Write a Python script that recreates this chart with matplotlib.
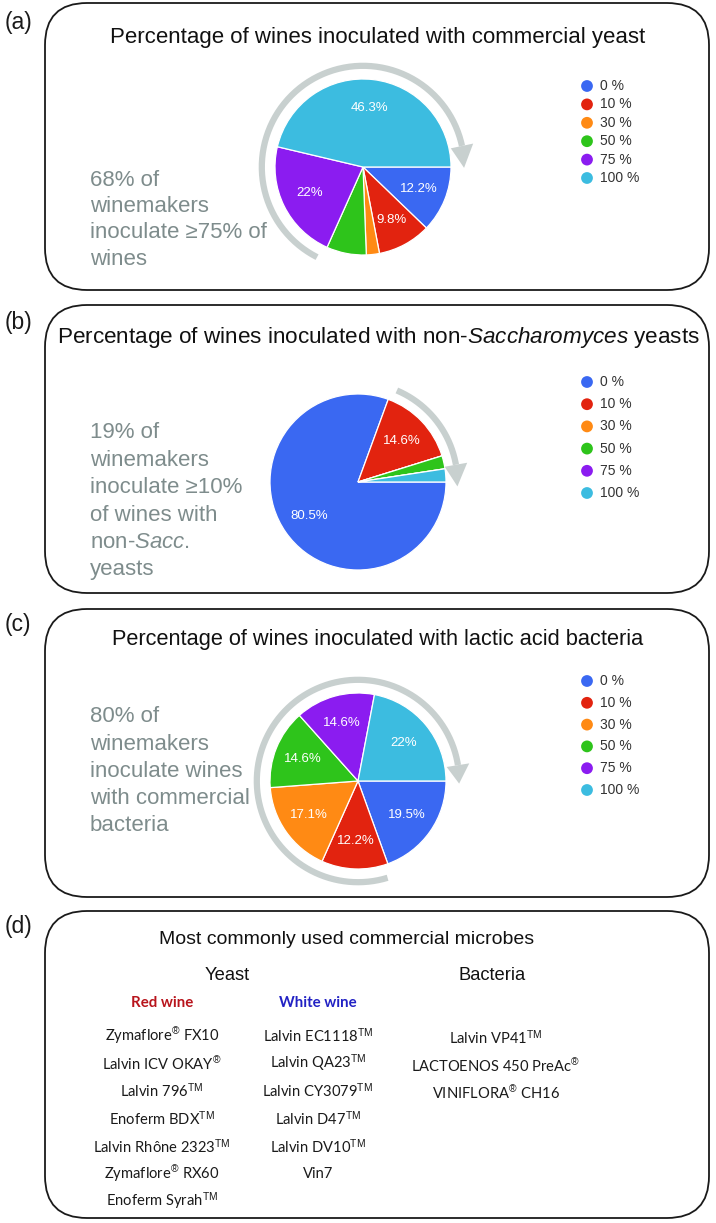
import numpy as np
import matplotlib
matplotlib.use("Agg")
import matplotlib.pyplot as plt
from matplotlib.patches import FancyBboxPatch, Polygon

plt.rcParams['font.family'] = ['Liberation Sans', 'DejaVu Sans']
plt.rcParams['mathtext.fontset'] = 'custom'
plt.rcParams['mathtext.rm'] = 'Liberation Sans'
plt.rcParams['mathtext.it'] = 'Liberation Sans:italic'
plt.rcParams['mathtext.bf'] = 'Liberation Sans:bold'

# ---------------- data ----------------
categories = ['0 %', '10 %', '30 %', '50 %', '75 %', '100 %']
commercial_yeast = [12.2, 9.8, 2.4, 7.3, 22, 46.3]
commercial_yeast_labels = ['12.2%', '9.8%', '', '', '22%', '46.3%']
non_sacc = [80.5, 14.6, 0, 2.4, 0, 2.4]
non_sacc_labels = ['80.5%', '14.6%', '', '', '', '']
lab = [19.5, 12.2, 17.1, 14.6, 14.6, 22]
lab_labels = ['19.5%', '12.2%', '17.1%', '14.6%', '14.6%', '22%']

titles = ['Percentage of wines inoculated with commercial yeast',
          'Percentage of wines inoculated with non-$\\mathit{Saccharomyces}$ yeasts',
          'Percentage of wines inoculated with lactic acid bacteria']
side_texts = [['68% of', 'winemakers', 'inoculate \u226575% of', 'wines'],
              ['19% of', 'winemakers', 'inoculate \u226510%', 'of wines with',
               'non-$\\mathit{Sacc}$.', 'yeasts'],
              ['80% of', 'winemakers', 'inoculate wines', 'with commercial', 'bacteria']]

d_title = 'Most commonly used commercial microbes'
red_wine = ['Zymaflore$^{\u00ae}$ FX10', 'Lalvin ICV OKAY$^{\u00ae}$', 'Lalvin 796$^{\\mathrm{TM}}$',
            'Enoferm BDX$^{\\mathrm{TM}}$', 'Lalvin Rh\u00f4ne 2323$^{\\mathrm{TM}}$',
            'Zymaflore$^{\u00ae}$ RX60', 'Enoferm Syrah$^{\\mathrm{TM}}$']
white_wine = ['Lalvin EC1118$^{\\mathrm{TM}}$', 'Lalvin QA23$^{\\mathrm{TM}}$',
              'Lalvin CY3079$^{\\mathrm{TM}}$', 'Lalvin D47$^{\\mathrm{TM}}$',
              'Lalvin DV10$^{\\mathrm{TM}}$', 'Vin7']
bacteria = ['Lalvin VP41$^{\\mathrm{TM}}$', 'LACTOENOS 450 PreAc$^{\u00ae}$',
            'VINIFLORA$^{\u00ae}$ CH16']

colors = ['#3a68f2', '#e2230f', '#ff8a14', '#2ec41b', '#8b1cf0', '#3cbce0']
arrow_gray = '#c8d0cf'
text_gray = '#7e8c8c'

W, H = 716, 1223
fig = plt.figure(figsize=(W / 100, H / 100), dpi=100)
ax0 = fig.add_axes([0, 0, 1, 1])
ax0.set_xlim(0, W)
ax0.set_ylim(H, 0)
ax0.axis('off')

# boxes
boxes = [(45, 3, 709, 290), (45, 305, 709, 593), (45, 609, 709, 897), (45, 911, 709, 1218)]
for (x0, y0, x1, y1) in boxes:
    ax0.add_patch(FancyBboxPatch((x0, y0), x1 - x0, y1 - y0,
                                 boxstyle='round,pad=0,rounding_size=42',
                                 fc='white', ec='#1a1a1a', lw=1.3))

panel_letters = ['(a)', '(b)', '(c)', '(d)']
letter_y = [22, 323, 624, 927]
for s, y in zip(panel_letters, letter_y):
    ax0.text(18, y, s, fontsize=16.5, ha='center', va='center', color='#1a1a1a')

title_y = [38, 338, 640]
title_fs = [16, 16.2, 15.7]
for t, y, fs in zip(titles, title_y, title_fs):
    ax0.text(378, y, t, fontsize=fs, ha='center', va='center', color='#111111')

side_y0 = [180, 433, 717]
side_dy = [26.5, 27.4, 27.2]
for lines, y0, dy in zip(side_texts, side_y0, side_dy):
    for i, ln in enumerate(lines):
        ax0.text(90, y0 + i * dy, ln, fontsize=16, ha='left', va='center', color=text_gray)

# legends
leg_y0 = [86, 382, 681]
leg_dy = [18.4, 22.2, 21.8]
for y0, dy in zip(leg_y0, leg_dy):
    for i, (c, lab_name) in enumerate(zip(colors, categories)):
        ax0.scatter([587], [y0 + i * dy], s=72, color=c, edgecolors='none')
        ax0.text(600, y0 + i * dy, lab_name, fontsize=10, ha='left', va='center', color='#333333')

# pies
R = 88.0
lim = 1.3
centers = [(363, 167), (358, 482), (358, 781)]
datasets = [(commercial_yeast, commercial_yeast_labels),
            (non_sacc, non_sacc_labels),
            (lab, lab_labels)]
arcs = [(243, 12, 3, 1.15), (67, 10, 1, 1.13), (287, 9, 2, 1.15)]

for (cx, cy), (vals, labs), (a_start, a_end, a_tip, ar) in zip(centers, datasets, arcs):
    S = lim * R
    ax = fig.add_axes([(cx - S) / W, (H - cy - S) / H, 2 * S / W, 2 * S / H])
    ax.set_xlim(-lim, lim)
    ax.set_ylim(-lim, lim)
    ax.set_aspect('equal')
    ax.axis('off')
    it = iter(labs)
    ax.pie(vals, colors=colors, startangle=0, counterclock=False, radius=1,
           wedgeprops=dict(edgecolor='white', linewidth=0.9),
           autopct=lambda p: next(it), pctdistance=0.68,
           textprops=dict(color='white', fontsize=9.5))
    ax.set_xlim(-lim, lim)
    ax.set_ylim(-lim, lim)
    th = np.radians(np.linspace(a_start, a_end, 300))
    ax.plot(ar * np.cos(th), ar * np.sin(th), color=arrow_gray, lw=4.5,
            solid_capstyle='butt')
    hw = 0.13
    te, tt = np.radians(a_end), np.radians(a_tip)
    tip_r = ar
    head = [((ar - hw) * np.cos(te), (ar - hw) * np.sin(te)),
            ((ar + hw) * np.cos(te), (ar + hw) * np.sin(te)),
            (tip_r * np.cos(tt), tip_r * np.sin(tt) - 0.07)]
    ax.add_patch(Polygon(head, closed=True, fc=arrow_gray, ec='none'))

# panel d
ax0.text(347, 940, d_title, fontsize=14, ha='center', va='center', color='#111111')
ax0.text(227, 975, 'Yeast', fontsize=13.2, ha='center', va='center', color='#111111')
ax0.text(492, 975, 'Bacteria', fontsize=13.2, ha='center', va='center', color='#111111')
ax0.text(162, 1003, 'Red wine', fontsize=10.8, ha='center', va='center', color='#b8141c',
         family='Lato', weight='bold')
ax0.text(318, 1003, 'White wine', fontsize=10.8, ha='center', va='center', color='#2222c4',
         family='Lato', weight='bold')
item_dy = 27.6
item_fs = 10.6
for i, s in enumerate(red_wine):
    ax0.text(162, 1036 + i * item_dy, s, fontsize=item_fs, ha='center', va='center',
             color='#1a1a1a', family='Lato')
for i, s in enumerate(white_wine):
    ax0.text(318, 1036 + i * item_dy, s, fontsize=item_fs, ha='center', va='center',
             color='#1a1a1a', family='Lato')
for i, s in enumerate(bacteria):
    ax0.text(496, 1038 + i * item_dy, s, fontsize=item_fs, ha='center', va='center',
             color='#1a1a1a', family='Lato')

fig.savefig('out.png', dpi=100)
